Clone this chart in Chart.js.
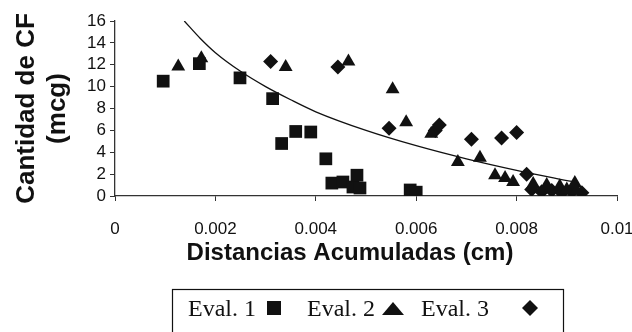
<!DOCTYPE html>
<html>
<head>
<meta charset="utf-8">
<script src="https://cdn.jsdelivr.net/npm/chart.js@4"></script>
<style>
  body { margin: 0; background: #fff; }
  #wrap { width: 632px; height: 332px; position: relative; }
</style>
</head>
<body>
<div id="wrap"><canvas id="myChart"></canvas></div>
<script>
// series names
const seriesNames = ['Eval. 1', 'Eval. 2', 'Eval. 3'];
const xTitle = 'Distancias Acumuladas (cm)';
const yTitle = ['Cantidad de CF', '(mcg)'];

// Eval. 1 (cuadrados)
const eval1X = [0.00096, 0.00168, 0.00249, 0.00314, 0.00332, 0.0036, 0.0039, 0.0042, 0.00432, 0.00454, 0.00474, 0.00482, 0.00488, 0.00588, 0.0059, 0.006];
const eval1Y = [10.5, 12.1, 10.8, 8.9, 4.8, 5.9, 5.85, 3.4, 1.18, 1.28, 0.82, 1.9, 0.73, 0.55, 0.2, 0.35];

// Eval. 2 (triangulos)
const eval2X = [0.00126, 0.00172, 0.0034, 0.00465, 0.00553, 0.0058, 0.0063, 0.00683, 0.00727, 0.00757, 0.00777, 0.00793, 0.00833, 0.0086, 0.00886, 0.009, 0.00916, 0.0092];
const eval2Y = [11.85, 12.6, 11.8, 12.3, 9.75, 6.75, 5.7, 3.1, 3.5, 1.9, 1.64, 1.28, 1.1, 1.0, 0.9, 0.6, 1.2, 0.5];

// Eval. 3 (rombos)
const eval3X = [0.0031, 0.00444, 0.00546, 0.00638, 0.00646, 0.0071, 0.0077, 0.008, 0.0082, 0.0083, 0.0085, 0.0087, 0.0089, 0.0091, 0.0093];
const eval3Y = [12.3, 11.8, 6.2, 6.0, 6.5, 5.2, 5.3, 5.8, 2.0, 0.6, 0.4, 0.5, 0.3, 0.4, 0.3];

// linea de tendencia
const trendX = [0.00138, 0.0017, 0.002, 0.0025, 0.003, 0.0035, 0.004, 0.005, 0.006, 0.007, 0.008, 0.0091];
const trendY = [16, 14.4, 13.1, 11.4, 10.0, 8.8, 7.7, 6.0, 4.6, 3.4, 2.35, 1.33];

// ticks
const xTickLabels = ['0', '0.002', '0.004', '0.006', '0.008', '0.01'];
const yTicks = [0, 2, 4, 6, 8, 10, 12, 14, 16];

function toPoints(xs, ys) {
    return xs.map(function(x, i) { return {x: x, y: ys[i]}; });
}

// titulo X y leyenda dibujados a mano (texto y luego el marcador)
const extras = {
    id: 'extras',
    afterDraw: function(chart) {
        const ctx = chart.ctx;
        ctx.save();
        ctx.fillStyle = '#111';
        ctx.font = 'bold 24px "Liberation Sans", Arial, sans-serif';
        ctx.textAlign = 'center';
        ctx.textBaseline = 'middle';
        ctx.fillText(xTitle, 350, 253);

        ctx.textAlign = 'left';
        ctx.strokeStyle = '#111';
        ctx.lineWidth = 1.2;
        ctx.strokeRect(172.5, 289.5, 391, 60);
        ctx.font = '24px "Liberation Serif", "Times New Roman", serif';
        ctx.textBaseline = 'alphabetic';
        ctx.fillText(seriesNames[0], 188, 316);
        ctx.fillText(seriesNames[1], 307, 316);
        ctx.fillText(seriesNames[2], 421, 316);
        // cuadrado
        ctx.fillRect(267, 301, 14, 14);
        // triangulo
        ctx.beginPath();
        ctx.moveTo(382, 315);
        ctx.lineTo(404, 315);
        ctx.lineTo(393, 302);
        ctx.closePath();
        ctx.fill();
        // rombo
        ctx.beginPath();
        ctx.moveTo(530, 300);
        ctx.lineTo(538, 308);
        ctx.lineTo(530, 316);
        ctx.lineTo(522, 308);
        ctx.closePath();
        ctx.fill();
        ctx.restore();
    }
};

const ctx = document.getElementById('myChart').getContext('2d');
new Chart(ctx, {
    type: 'scatter',
    data: {
        datasets: [
            {
                label: 'Tendencia',
                type: 'line',
                data: toPoints(trendX, trendY),
                borderColor: '#111',
                borderWidth: 1.3,
                pointRadius: 0,
                fill: false,
                cubicInterpolationMode: 'monotone'
            },
            {
                label: seriesNames[0],
                data: toPoints(eval1X, eval1Y),
                pointStyle: 'rect',
                pointRadius: 9,
                backgroundColor: '#111',
                borderColor: '#111',
                borderWidth: 0
            },
            {
                label: seriesNames[1],
                data: toPoints(eval2X, eval2Y),
                pointStyle: 'triangle',
                pointRadius: 8,
                backgroundColor: '#111',
                borderColor: '#111',
                borderWidth: 0
            },
            {
                label: seriesNames[2],
                data: toPoints(eval3X, eval3Y),
                pointStyle: 'rectRot',
                pointRadius: 7.5,
                backgroundColor: '#111',
                borderColor: '#111',
                borderWidth: 0
            }
        ]
    },
    options: {
        responsive: true,
        maintainAspectRatio: false,
        animation: false,
        layout: { padding: { top: 21, right: 15, bottom: 60, left: 0 } },
        plugins: {
            legend: { display: false },
            tooltip: { enabled: false }
        },
        scales: {
            x: {
                type: 'linear',
                min: 0,
                max: 0.01,
                afterFit: function(scale) {
                    scale.height = 76;
                    scale.paddingLeft = 0;
                    scale.paddingRight = 0;
                },
                ticks: {
                    stepSize: 0.002,
                    color: '#111',
                    padding: 18,
                    maxRotation: 0,
                    autoSkip: false,
                    font: { family: '"Liberation Sans", Arial, sans-serif', size: 17 },
                    callback: function(v, i) { return xTickLabels[i]; }
                },
                grid: { drawOnChartArea: false, drawTicks: true, tickLength: 5, color: '#333' },
                border: { display: true, color: '#333', width: 1.3 }
            },
            y: {
                min: 0,
                max: 16,
                afterBuildTicks: function(scale) {
                    scale.ticks = yTicks.map(function(v) { return {value: v}; });
                },
                afterFit: function(scale) { scale.width = 115; },
                ticks: {
                    color: '#111',
                    padding: 4,
                    autoSkip: false,
                    font: { family: '"Liberation Sans", Arial, sans-serif', size: 17 }
                },
                grid: { drawOnChartArea: false, drawTicks: true, tickLength: 5, color: '#333' },
                border: { display: true, color: '#333', width: 1.3 },
                title: {
                    display: true,
                    text: yTitle,
                    color: '#111',
                    padding: { top: 11, bottom: 0 },
                    font: { family: '"Liberation Sans", Arial, sans-serif', size: 26, weight: 'bold', lineHeight: 1.2 }
                }
            }
        }
    },
    plugins: [extras]
});
</script>
</body>
</html>
